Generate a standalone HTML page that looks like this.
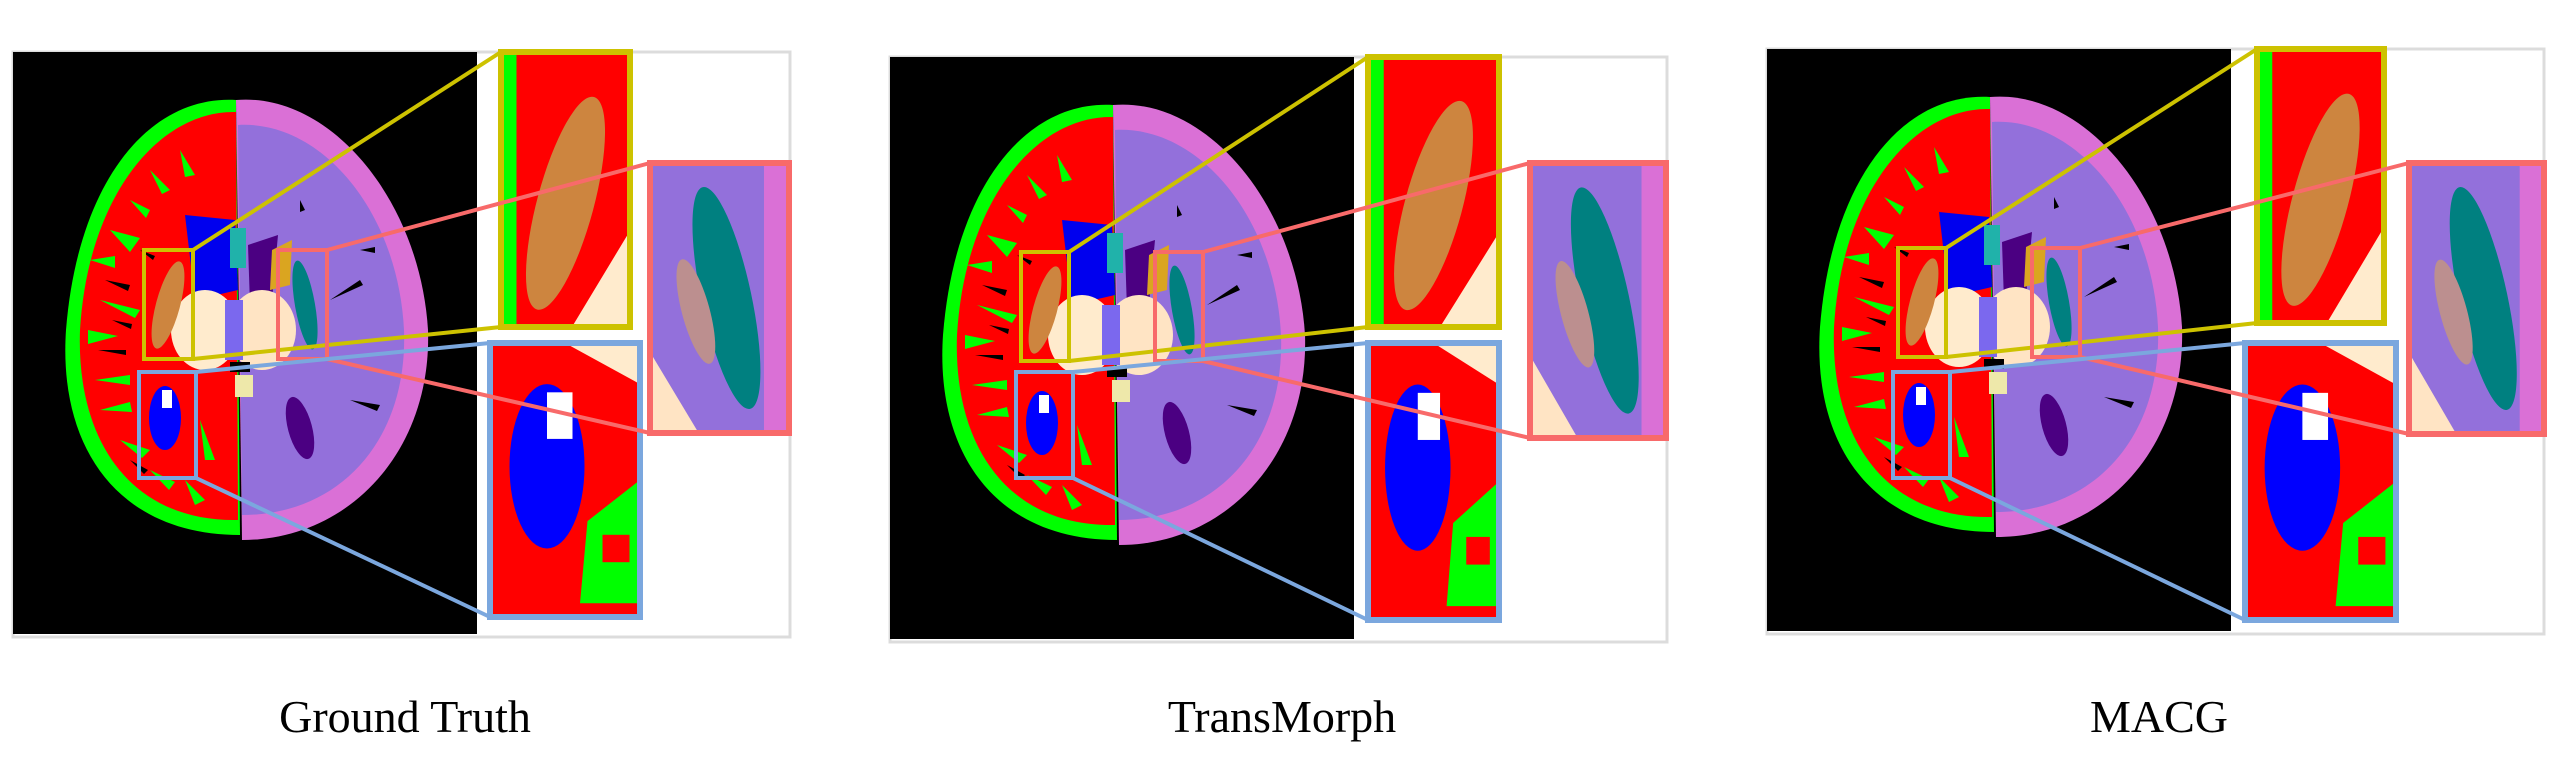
<!DOCTYPE html>
<html><head><meta charset="utf-8"><style>
html,body{margin:0;padding:0;background:#fff;width:2560px;height:759px;overflow:hidden}
svg{display:block}
text{font-family:"Liberation Serif",serif}
</style></head><body>
<svg id="fig" width="2560" height="759" viewBox="0 0 2560 759" xmlns="http://www.w3.org/2000/svg"></svg>
<script>
const captions=["Ground Truth","TransMorph","MACG"];
const panelDX=[0,877,1754];
const panelDY=[0,5,-3];
const svg=document.getElementById('fig');
function brain(){return `
<path d="M236 100 C150 95 78 180 66 330 C58 450 120 535 240 535 Z" fill="#00ff00"/>
<path d="M236 112 C160 110 88 195 80 330 C76 440 130 522 238 520 Z" fill="#ff0000"/>
<path d="M110 230 l30 8 -10 14z M100 300 l40 10 -5 8z M95 380 l35 -5 0 10z M120 440 l30 10 -8 8z M150 170 l20 20 -8 4z M90 260 l25 -4 0 12z M88 330 l30 6 -30 8z M100 410 l30 -8 2 10z M150 470 l25 12 -6 8z M180 150 l15 25 -10 2z M130 200 l20 10 -4 8z M200 420 l15 40 -10 0z M185 480 l20 20 -10 5z" fill="#00ff00"/>
<path d="M105 280 l25 5 -2 6z M98 350 l28 0 0 5z M130 460 l18 10 -4 4z M112 320 l20 4 -1 5z M140 250 l15 6 -2 4z" fill="#000"/>
<path d="M236 100 C330 92 420 200 428 330 C432 450 350 540 242 540 Z" fill="#da70d6"/>
<path d="M238 125 C320 120 398 210 404 330 C408 440 340 515 242 515 Z" fill="#9370db"/>
<path d="M330 300 l30 -20 3 5z M350 400 l30 5 -3 6z M300 200 l5 10 -5 2z M360 250 l15 -3 0 6z" fill="#000"/>
<path d="M185 215 L235 220 L238 290 L195 300 Z" fill="#0000ee"/>
<rect x="230" y="228" width="16" height="40" fill="#20b2aa"/>
<path d="M248 245 L278 235 L272 300 L250 305 Z" fill="#4b0082"/>
<path d="M272 250 L292 240 L290 285 L270 290 Z" fill="#daa520"/>
<ellipse cx="205" cy="330" rx="34" ry="40" fill="#ffebcd"/>
<ellipse cx="262" cy="330" rx="34" ry="40" fill="#ffe4c4"/>
<rect x="225" y="300" width="18" height="60" fill="#7b68ee"/>
<ellipse cx="168" cy="305" rx="12" ry="45" transform="rotate(15 168 305)" fill="#cd853f"/>
<ellipse cx="305" cy="305" rx="10" ry="45" transform="rotate(-10 305 305)" fill="#008080"/>
<ellipse cx="165" cy="418" rx="16" ry="32" fill="#0000ff"/>
<rect x="162" y="390" width="10" height="18" fill="#fff"/>
<ellipse cx="300" cy="428" rx="12" ry="32" transform="rotate(-15 300 428)" fill="#4b0082"/>
<rect x="235" y="375" width="18" height="22" fill="#eee8aa"/>
<rect x="230" y="362" width="20" height="10" fill="#000"/>`;}
const insets=[
 {y:[501,52,129,275],p:[650,163,139,270],b:[490,343,150,274],sy:[144,250,49,109],sp:[278,250,49,109],sb:[139,372,57,106]},
 {y:[1368,57,131,270],p:[1530,163,136,275],b:[1368,343,131,277],sy:[1021,252,48,109],sp:[1155,252,48,109],sb:[1016,372,57,106]},
 {y:[2257,49,127,274],p:[2409,163,135,271],b:[2245,343,151,277],sy:[1898,248,48,109],sp:[2032,248,48,109],sb:[1893,372,57,106]}
];
let html='';
for(let i=0;i<3;i++){
 const dx=panelDX[i], dy=panelDY[i], s=insets[i];
 html+=`<g>`;
 html+=`<rect x="${13+dx}" y="${52+dy}" width="${777}" height="${585}" fill="#fff" stroke="#dcdcdc" stroke-width="3"/>`;
 html+=`<rect x="${13+dx}" y="${52+dy}" width="464" height="582" fill="#000"/>`;
 html+=`<g transform="translate(${dx},${dy})">${brain()}</g>`;
 const [yx,yy,yw,yh]=s.y,[px,py,pw,ph]=s.p,[bx,by,bw,bh]=s.b;
 html+=`<g><rect x="${yx}" y="${yy}" width="${yw}" height="${yh}" fill="#ff0000"/>
 <rect x="${yx}" y="${yy}" width="${yw*0.12}" height="${yh}" fill="#00ff00"/>
 <ellipse cx="${yx+yw*0.5}" cy="${yy+yh*0.55}" rx="${yw*0.22}" ry="${yh*0.4}" transform="rotate(15 ${yx+yw*0.5} ${yy+yh*0.55})" fill="#cd853f"/>
 <path d="M${yx+yw*0.55} ${yy+yh} L${yx+yw} ${yy+yh*0.65} L${yx+yw} ${yy+yh} Z" fill="#ffebcd"/>
 <rect x="${yx}" y="${yy}" width="${yw}" height="${yh}" fill="none" stroke="#cdc200" stroke-width="6"/></g>`;
 html+=`<g><rect x="${px}" y="${py}" width="${pw}" height="${ph}" fill="#9370db"/>
 <rect x="${px+pw*0.82}" y="${py}" width="${pw*0.18}" height="${ph}" fill="#da70d6"/>
 <ellipse cx="${px+pw*0.55}" cy="${py+ph*0.5}" rx="${pw*0.18}" ry="${ph*0.42}" transform="rotate(-12 ${px+pw*0.55} ${py+ph*0.5})" fill="#008080"/>
 <ellipse cx="${px+pw*0.33}" cy="${py+ph*0.55}" rx="${pw*0.1}" ry="${ph*0.2}" transform="rotate(-15 ${px+pw*0.33} ${py+ph*0.55})" fill="#bc8f8f"/>
 <path d="M${px} ${py+ph*0.7} L${px+pw*0.35} ${py+ph} L${px} ${py+ph} Z" fill="#ffe4c4"/>
 <rect x="${px}" y="${py}" width="${pw}" height="${ph}" fill="none" stroke="#f86a6a" stroke-width="6"/></g>`;
 html+=`<g><rect x="${bx}" y="${by}" width="${bw}" height="${bh}" fill="#ff0000"/>
 <path d="M${bx+bw*0.5} ${by} L${bx+bw} ${by} L${bx+bw} ${by+bh*0.15} Z" fill="#ffebcd"/>
 <ellipse cx="${bx+bw*0.38}" cy="${by+bh*0.45}" rx="${bw*0.25}" ry="${bh*0.3}" fill="#0000ff"/>
 <rect x="${bx+bw*0.38}" y="${by+bh*0.18}" width="${bw*0.17}" height="${bh*0.17}" fill="#fff"/>
 <path d="M${bx+bw*0.6} ${by+bh*0.95} L${bx+bw*0.65} ${by+bh*0.65} L${bx+bw} ${by+bh*0.5} L${bx+bw} ${by+bh*0.95} Z" fill="#00ff00"/>
 <rect x="${bx+bw*0.75}" y="${by+bh*0.7}" width="${bw*0.18}" height="${bh*0.1}" fill="#ff0000"/>
 <rect x="${bx}" y="${by}" width="${bw}" height="${bh}" fill="none" stroke="#7ba7de" stroke-width="6"/></g>`;
 const [ax,ay,aw,ah]=s.sy,[cx,cy,cw,ch]=s.sp,[ex,ey,ew,eh]=s.sb;
 html+=`<g fill="none" stroke-width="4">
 <rect x="${ax}" y="${ay}" width="${aw}" height="${ah}" stroke="#cdc200"/>
 <line x1="${ax+aw}" y1="${ay}" x2="${yx}" y2="${yy}" stroke="#cdc200"/>
 <line x1="${ax+aw}" y1="${ay+ah}" x2="${yx}" y2="${yy+yh}" stroke="#cdc200"/>
 <rect x="${cx}" y="${cy}" width="${cw}" height="${ch}" stroke="#f86a6a"/>
 <line x1="${cx+cw}" y1="${cy}" x2="${px}" y2="${py}" stroke="#f86a6a"/>
 <line x1="${cx+cw}" y1="${cy+ch}" x2="${px}" y2="${py+ph}" stroke="#f86a6a"/>
 <rect x="${ex}" y="${ey}" width="${ew}" height="${eh}" stroke="#7ba7de"/>
 <line x1="${ex+ew}" y1="${ey}" x2="${bx}" y2="${by}" stroke="#7ba7de"/>
 <line x1="${ex+ew}" y1="${ey+eh}" x2="${bx}" y2="${by+bh}" stroke="#7ba7de"/></g>`;
 html+=`<text x="${405+dx}" y="732" text-anchor="middle" font-size="46" fill="#000">${captions[i]}</text>`;
 html+=`</g>`;
}
svg.innerHTML=html;
</script>
</body></html>
